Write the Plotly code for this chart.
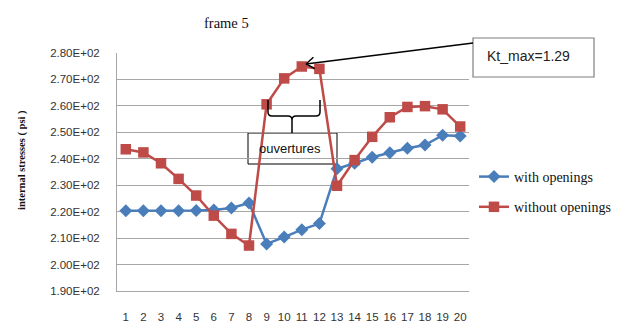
import math
import plotly.graph_objects as go

# ---------------- data ----------------
categories = list(range(1, 21))
with_openings = [220.3, 220.3, 220.3, 220.3, 220.4, 220.6, 221.4, 223.3, 207.8, 210.4,
                 213.2, 215.5, 236.2, 238.3, 240.6, 242.3, 244.0, 245.2, 248.9, 248.6]
without_openings = [243.6, 242.4, 238.3, 232.4, 226.1, 218.5, 211.6, 207.2, 260.6, 270.4,
                    274.9, 274.0, 229.8, 239.5, 248.3, 255.7, 259.6, 259.9, 258.7, 252.2]
y_tickvals = [190, 200, 210, 220, 230, 240, 250, 260, 270, 280]
y_ticktext = ["1.90E+02", "2.00E+02", "2.10E+02", "2.20E+02", "2.30E+02",
              "2.40E+02", "2.50E+02", "2.60E+02", "2.70E+02", "2.80E+02"]
x_ticktext = [str(c) for c in categories]

# ---------------- layout geometry ----------------
# the page body has an 8px margin, so the figure is offset by 8px
OFF = 8
W, H = 629 - OFF, 323 - OFF
PL, PR, PT, PB = 117, 469, 53, 291   # plot area in window pixels
PW, PH = PR - PL, PB - PT
ML, MT = PL - OFF, PT - OFF
MR, MB = W - (PR - OFF), H - (PB - OFF)


def px(x):
    return (x - PL) / PW


def py(y):
    return (PB - y) / PH


BLUE = "#4A7EBB"
RED = "#BE4B48"
GRID = "#A6A6A6"

fig = go.Figure()
fig.add_trace(go.Scatter(
    x=categories, y=with_openings, name="with openings", mode="lines+markers",
    line=dict(color=BLUE, width=2.5),
    marker=dict(symbol="diamond", size=10, color=BLUE),
    legendgroup="a"))
fig.add_trace(go.Scatter(
    x=categories, y=without_openings, name="without openings", mode="lines+markers",
    line=dict(color=RED, width=2.5),
    marker=dict(symbol="square", size=10.5, color=RED),
    legendgroup="b"))

shapes = []
# "ouvertures" box (white, hides gridlines, below traces)
shapes.append(dict(type="rect", xref="paper", yref="paper",
                   x0=px(248), x1=px(337), y0=py(164), y1=py(133),
                   line=dict(color="#000000", width=1), fillcolor="white",
                   layer="between"))
# brace
path = (f"M {px(268)},{py(100)} L {px(268)},{py(112)} "
        f"Q {px(268)},{py(116)} {px(272)},{py(116)} "
        f"L {px(288)},{py(116)} Q {px(292)},{py(116)} {px(292)},{py(120)} "
        f"L {px(292)},{py(133)} "
        f"M {px(292)},{py(120)} Q {px(292)},{py(116)} {px(296)},{py(116)} "
        f"L {px(316)},{py(116)} Q {px(320)},{py(116)} {px(320)},{py(112)} "
        f"L {px(320)},{py(100)}")
shapes.append(dict(type="path", xref="paper", yref="paper", path=path,
                   line=dict(color="#000000", width=1.5), layer="above"))
# Kt box
shapes.append(dict(type="rect", xref="paper", yref="paper",
                   x0=px(473), x1=px(594), y0=py(77), y1=py(38),
                   line=dict(color="#7F7F7F", width=1.2), fillcolor="white",
                   layer="above"))
# arrow line + open head
tail = (473, 43)
tip = (306, 64)
shapes.append(dict(type="line", xref="paper", yref="paper",
                   x0=px(tail[0]), y0=py(tail[1]), x1=px(tip[0]), y1=py(tip[1]),
                   line=dict(color="#000000", width=1.5), layer="above"))
dx, dy = tail[0] - tip[0], tail[1] - tip[1]
L = math.hypot(dx, dy)
ux, uy = dx / L, dy / L
for ang in (35, -35):
    a = math.radians(ang)
    vx = ux * math.cos(a) - uy * math.sin(a)
    vy = ux * math.sin(a) + uy * math.cos(a)
    shapes.append(dict(type="line", xref="paper", yref="paper",
                       x0=px(tip[0]), y0=py(tip[1]),
                       x1=px(tip[0] + 10 * vx), y1=py(tip[1] + 10 * vy),
                       line=dict(color="#000000", width=1.5), layer="above"))

annotations = [
    dict(text="ouvertures", xref="paper", yref="paper", x=px(290), y=py(148),
         showarrow=False, font=dict(family="Liberation Sans", size=13, color="#111111"),
         xanchor="center", yanchor="middle"),
    dict(text="Kt_max=1.29", xref="paper", yref="paper", x=px(485), y=py(56),
         showarrow=False, font=dict(family="Liberation Sans", size=14, color="#222222"),
         xanchor="left", yanchor="middle"),
    dict(text="<b>internal stresses ( psi )</b>", xref="paper", yref="paper",
         x=px(22), y=py(160), textangle=-90, showarrow=False,
         font=dict(family="Liberation Serif", size=10.5, color="#111111"),
         xanchor="center", yanchor="middle"),
    dict(text="frame 5", xref="paper", yref="paper", x=px(226), y=py(23),
         showarrow=False, font=dict(family="Liberation Serif", size=14.5, color="#111111"),
         xanchor="center", yanchor="middle"),
]

fig.update_layout(
    width=W, height=H,
    margin=dict(l=ML, r=MR, t=MT, b=MB, pad=0, autoexpand=False),
    paper_bgcolor="white", plot_bgcolor="white",
    showlegend=True,
    legend=dict(x=px(474), y=py(161), xanchor="left", yanchor="top",
                font=dict(family="Liberation Serif", size=14, color="#111111"),
                bgcolor="rgba(0,0,0,0)", tracegroupgap=9),
    shapes=shapes, annotations=annotations,
    xaxis=dict(range=[0.5, 20.5], tickvals=categories, ticktext=x_ticktext,
               showgrid=False, zeroline=False, showline=True, linecolor=GRID, linewidth=1,
               ticks="outside", ticklen=15, tickcolor="rgba(0,0,0,0)", automargin=False,
               tickfont=dict(family="Liberation Sans", size=11.5, color="#333333")),
    yaxis=dict(range=[190, 280], tickvals=y_tickvals, ticktext=y_ticktext,
               showgrid=True, gridcolor=GRID, gridwidth=1, zeroline=False,
               showline=True, linecolor=GRID, linewidth=1, automargin=False,
               ticks="outside", ticklen=14, tickcolor="rgba(0,0,0,0)",
               tickfont=dict(family="Liberation Sans", size=11.5, color="#333333")),
)

fig.write_html("out.html")
